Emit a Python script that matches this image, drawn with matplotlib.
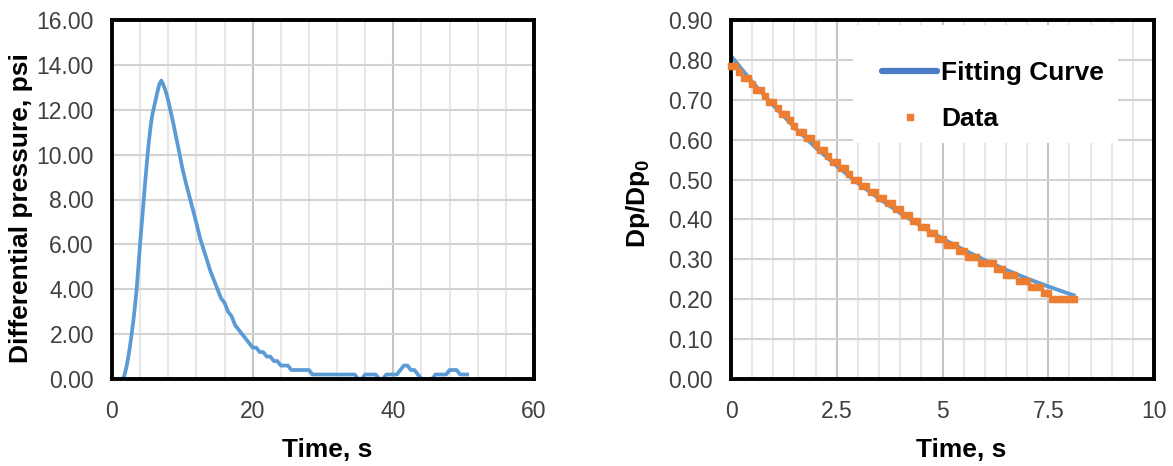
import numpy as np
import matplotlib
matplotlib.use("Agg")
import matplotlib.pyplot as plt
from matplotlib.ticker import MultipleLocator, FormatStrFormatter, FuncFormatter
from matplotlib.lines import Line2D
from matplotlib.patches import Rectangle

plt.rcParams["font.family"] = ["Liberation Sans", "DejaVu Sans"]
plt.rcParams["mathtext.fontset"] = "custom"
plt.rcParams["mathtext.rm"] = "Liberation Sans"
plt.rcParams["mathtext.bf"] = "Liberation Sans:bold"

# ---- differential pressure record ----
# pulse: sampled every 0.25 s from 1.5 s to 9.0 s
pulse_psi = [
    0.0, 0.15, 0.45, 0.85, 1.35, 1.9, 2.5, 3.2, 4.0, 5.0,
    6.05, 7.0, 7.95, 8.9, 9.8, 10.6, 11.3, 11.8, 12.15, 12.5,
    12.85, 13.15, 13.3, 13.15, 12.95, 12.7, 12.4, 12.05, 11.7, 11.35,
    10.95,
]
# decay and tail: sampled every 0.5 s from 9.5 s to 50.5 s
tail_psi = [
    10.2, 9.4, 8.75, 8.15, 7.55, 6.95, 6.3, 5.8, 5.3, 4.8,
    4.4, 4.0, 3.6, 3.4, 3.0, 2.8, 2.4, 2.2, 2.0, 1.8,
    1.6, 1.4, 1.4, 1.2, 1.2, 1.0, 1.0, 0.8, 0.8, 0.6,
    0.6, 0.6, 0.4, 0.4, 0.4, 0.4, 0.4, 0.4, 0.2, 0.2,
    0.2, 0.2, 0.2, 0.2, 0.2, 0.2, 0.2, 0.2, 0.2, 0.2,
    0.2, 0.0, 0.0, 0.2, 0.2, 0.2, 0.2, 0.0, 0.0, 0.2,
    0.2, 0.2, 0.2, 0.4, 0.6, 0.6, 0.4, 0.4, 0.2, 0.0,
    0.0, 0.0, 0.0, 0.2, 0.2, 0.2, 0.2, 0.4, 0.4, 0.4,
    0.2, 0.2, 0.2,
]
pulse_time = 1.5 + 0.25 * np.arange(len(pulse_psi))
tail_time = 9.5 + 0.5 * np.arange(len(tail_psi))
dp_time = np.concatenate([pulse_time, tail_time])
dp_psi = np.concatenate([pulse_psi, tail_psi])

# ---- normalised decay: measured points (every 0.1 s) and fitted curve ----
ratio_time = np.round(np.arange(0, 82) * 0.1, 1)
ratio_data = [
    0.785, 0.785, 0.770, 0.755, 0.755, 0.740, 0.725, 0.725, 0.710, 0.695,
    0.695, 0.680, 0.665, 0.665, 0.650, 0.635, 0.620, 0.620, 0.605, 0.605,
    0.590, 0.575, 0.575, 0.560, 0.545, 0.545, 0.530, 0.530, 0.515, 0.500,
    0.500, 0.485, 0.485, 0.470, 0.470, 0.455, 0.455, 0.440, 0.440, 0.425,
    0.425, 0.410, 0.410, 0.395, 0.395, 0.380, 0.380, 0.365, 0.365, 0.350,
    0.350, 0.335, 0.335, 0.335, 0.320, 0.320, 0.305, 0.305, 0.305, 0.290,
    0.290, 0.290, 0.290, 0.275, 0.275, 0.260, 0.260, 0.260, 0.245, 0.245,
    0.245, 0.230, 0.230, 0.230, 0.215, 0.215, 0.200, 0.200, 0.200, 0.200,
    0.200, 0.200,
]
fit_time = [0.0, 0.5, 1.0, 1.5, 2.0, 2.5, 3.0, 3.5, 4.0, 4.5, 5.0, 5.5,
            6.0, 6.5, 7.0, 7.5, 8.0, 8.1]
fit_ratio = [0.810, 0.745, 0.686, 0.631, 0.580, 0.534, 0.491, 0.452, 0.416,
             0.383, 0.352, 0.324, 0.298, 0.274, 0.252, 0.232, 0.2135, 0.210]

legend_labels = ["Fitting Curve", "Data"]

BLUE = "#5B9BD5"
BLUE_LEG = "#4A7CC8"
ORANGE = "#ED7D31"
TICK_COLOR = "#404040"

W, H = 1173, 466
fig = plt.figure(figsize=(W / 100, H / 100), dpi=100)
ax1 = fig.add_axes([112 / W, 1 - 379 / H, 422 / W, 359 / H])
ax2 = fig.add_axes([731 / W, 1 - 379 / H, 423 / W, 359 / H])


def style_axes(ax):
    ax.set_axisbelow(True)
    for s in ax.spines.values():
        s.set_linewidth(2.8)
        s.set_color("black")
    ax.tick_params(which="both", length=0, labelsize=16.5, colors=TICK_COLOR)
    ax.tick_params(axis="y", pad=13)
    ax.tick_params(axis="x", pad=15)
    ax.grid(which="major", axis="y", color="#D3D3D3", lw=1.5)
    ax.grid(which="major", axis="x", color="#C4C4C4", lw=1.5)
    ax.grid(which="minor", axis="x", color="#E7E7E7", lw=1.5)


# ---- left panel ----
ax1.plot(dp_time, dp_psi, color=BLUE, lw=2.7, zorder=2,
         solid_joinstyle="round")
ax1.set_xlim(0, 60)
ax1.set_ylim(0, 16)
ax1.xaxis.set_major_locator(MultipleLocator(20))
ax1.xaxis.set_minor_locator(MultipleLocator(4))
ax1.yaxis.set_major_locator(MultipleLocator(2))
ax1.yaxis.set_major_formatter(FormatStrFormatter("%.2f"))
ax1.xaxis.set_major_formatter(FuncFormatter(lambda v, p: f"{v:g}"))
style_axes(ax1)
ax1.set_xlabel("Time, s", fontsize=19, fontweight="bold")
ax1.set_ylabel("Differential pressure, psi", fontsize=19, fontweight="bold")
ax1.xaxis.set_label_coords(0.509, -0.165)
ax1.yaxis.set_label_coords(-0.187, 0.476)

# ---- right panel ----
ax2.add_patch(Rectangle((0.288, 0.657), 0.626, 0.329, transform=ax2.transAxes,
                        facecolor="white", edgecolor="none", zorder=1))
ax2.plot(fit_time, fit_ratio, color=BLUE, lw=2.8, zorder=2)
ax2.plot(ratio_time, ratio_data, ls="none", marker="s", ms=4.6, color=ORANGE,
         mec=ORANGE, zorder=3, clip_on=False)
ax2.set_xlim(0, 10)
ax2.set_ylim(0, 0.9)
ax2.xaxis.set_major_locator(MultipleLocator(2.5))
ax2.xaxis.set_minor_locator(MultipleLocator(0.5))
ax2.yaxis.set_major_locator(MultipleLocator(0.1))
ax2.yaxis.set_major_formatter(FormatStrFormatter("%.2f"))
ax2.xaxis.set_major_formatter(FuncFormatter(lambda v, p: f"{v:g}"))
style_axes(ax2)
ax2.set_xlabel("Time, s", fontsize=19, fontweight="bold")
ax2.set_ylabel(r"Dp/Dp$_\mathbf{0}$", fontsize=19, fontweight="bold")
ax2.xaxis.set_label_coords(0.544, -0.165)
ax2.yaxis.set_label_coords(-0.187, 0.49)

handles = [
    Line2D([], [], color=BLUE_LEG, lw=4.5, solid_capstyle="round"),
    Line2D([], [], ls="none", marker="s", ms=5, color=ORANGE),
]
ax2.legend(handles, legend_labels, loc="center left",
           bbox_to_anchor=(0.357, 0.788), frameon=False, borderpad=0,
           borderaxespad=0, handlelength=2.1, handletextpad=0.15,
           labelspacing=0.85, prop={"size": 19, "weight": "bold"})

fig.savefig("out.png", dpi=100, facecolor="white")
